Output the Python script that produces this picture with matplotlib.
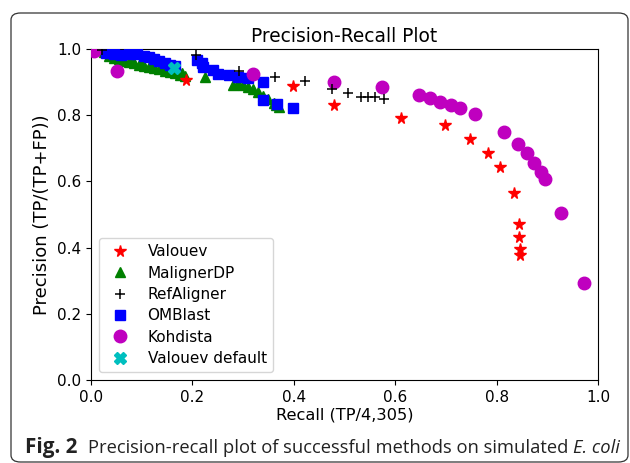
import matplotlib
matplotlib.use("Agg")
import matplotlib.pyplot as plt
from matplotlib.patches import FancyBboxPatch

# ---- data ----
valouev_r = [0.163, 0.187, 0.399, 0.479, 0.611, 0.698, 0.748, 0.783, 0.807, 0.835, 0.844, 0.845, 0.846, 0.847]
valouev_p = [0.950, 0.907, 0.887, 0.831, 0.792, 0.770, 0.728, 0.686, 0.643, 0.564, 0.470, 0.431, 0.395, 0.378]

maligner_r = [0.025, 0.035, 0.045, 0.055, 0.065, 0.075, 0.085, 0.095, 0.105, 0.115,
              0.125, 0.135, 0.145, 0.155, 0.165, 0.175, 0.185,
              0.06, 0.08, 0.10, 0.12, 0.14, 0.16, 0.18,
              0.225, 0.28, 0.29, 0.30, 0.31, 0.32, 0.33, 0.34, 0.35, 0.36, 0.365, 0.37]
maligner_p = [0.990, 0.980, 0.974, 0.969, 0.965, 0.961, 0.957, 0.953, 0.950, 0.946,
              0.943, 0.939, 0.935, 0.931, 0.926, 0.922, 0.917,
              0.976, 0.966, 0.958, 0.951, 0.944, 0.936, 0.927,
              0.914, 0.891, 0.895, 0.890, 0.885, 0.878, 0.870, 0.858, 0.848, 0.838, 0.830, 0.825]

refaligner_r = [0.022, 0.207, 0.292, 0.362, 0.423, 0.475, 0.506, 0.533, 0.547, 0.561, 0.577]
refaligner_p = [0.998, 0.982, 0.934, 0.914, 0.904, 0.878, 0.866, 0.854, 0.854, 0.854, 0.848]

omblast_r = [0.030, 0.045, 0.060, 0.075, 0.090, 0.105, 0.115, 0.125, 0.135, 0.145, 0.155, 0.165,
             0.209, 0.218, 0.221, 0.240, 0.250, 0.272, 0.290, 0.310, 0.339, 0.339, 0.366, 0.398]
omblast_p = [0.988, 0.985, 0.982, 0.985, 0.984, 0.980, 0.975, 0.970, 0.965, 0.958, 0.953, 0.948,
             0.967, 0.957, 0.946, 0.937, 0.924, 0.921, 0.916, 0.912, 0.901, 0.846, 0.833, 0.823]

kohdista_r = [0.006, 0.052, 0.320, 0.479, 0.573, 0.646, 0.669, 0.688, 0.710, 0.728,
              0.758, 0.815, 0.842, 0.859, 0.873, 0.888, 0.896, 0.927, 0.972]
kohdista_p = [0.995, 0.934, 0.923, 0.901, 0.884, 0.862, 0.852, 0.841, 0.831, 0.821,
              0.803, 0.748, 0.714, 0.685, 0.657, 0.629, 0.606, 0.506, 0.292]

vdefault_r = [0.164]
vdefault_p = [0.943]

ticks = [0.0, 0.2, 0.4, 0.6, 0.8, 1.0]
tick_labels = ["0.0", "0.2", "0.4", "0.6", "0.8", "1.0"]

W, H = 630, 463
fig = plt.figure(figsize=(W / 100, H / 100), dpi=100)
fig.patch.set_facecolor("white")

# outer rounded frame
frame = FancyBboxPatch((11 / W, 1 - 462 / H), (628 - 11) / W, (462 - 13) / H,
                       boxstyle="round,pad=0,rounding_size=0.015",
                       transform=fig.transFigure, fill=False,
                       edgecolor="#333333", linewidth=0.9)
fig.patches.append(frame)

ax = fig.add_axes([91 / W, (H - 380) / H, (598 - 91) / W, (380 - 49) / H])

ax.plot(valouev_r, valouev_p, linestyle="none", marker="*", color="red", ms=8.5, label="Valouev", zorder=3)
ax.plot(maligner_r, maligner_p, linestyle="none", marker="^", color="green", ms=7, label="MalignerDP", zorder=2)
ax.plot(refaligner_r, refaligner_p, linestyle="none", marker="+", color="black", ms=7.5, mew=1.1, label="RefAligner", zorder=4)
ax.plot(omblast_r, omblast_p, linestyle="none", marker="s", color="blue", ms=7, label="OMBlast", zorder=3)
ax.plot(kohdista_r, kohdista_p, linestyle="none", marker="o", color="#bf00bf", ms=9, label="Kohdista", zorder=3)
ax.plot(vdefault_r, vdefault_p, linestyle="none", marker="X", color="#00bfbf", ms=8, label="Valouev default", zorder=5)

ax.set_xlim(0, 1)
ax.set_ylim(0, 1)
ax.set_xticks(ticks)
ax.set_xticklabels(tick_labels)
ax.set_yticks(ticks)
ax.set_yticklabels(tick_labels)
ax.tick_params(labelsize=11)
ax.set_title("Precision-Recall Plot", fontsize=13.4, pad=5)
ax.set_xlabel("Recall (TP/4,305)", fontsize=11.7, labelpad=2)
ax.set_ylabel("Precision (TP/(TP+FP))", fontsize=13, labelpad=4)

leg = ax.legend(loc="lower left", fontsize=11, numpoints=1, framealpha=0.8,
                edgecolor="#cccccc", borderaxespad=0.5, handletextpad=0.8,
                labelspacing=0.42)

# caption, scaled to the reference's width
fig.canvas.draw()
r = fig.canvas.get_renderer()
cy = 1 - 448 / H
t1 = fig.text(25 / W, cy, "Fig. 2", fontsize=13, fontweight="bold", family="Open Sans",
              va="center", ha="left", color="#222222")
bb = t1.get_window_extent(r)
t1.set_fontsize(13 * 52 / bb.width)
body = "Precision-recall plot of successful methods on simulated "
t2 = fig.text(88 / W, cy, body, fontsize=12, family="Open Sans", va="center", ha="left", color="#222222")
t3 = fig.text(0, cy, "E. coli", fontsize=12, family="Open Sans", style="italic",
              va="center", ha="left", color="#222222")
w_total = t2.get_window_extent(r).width + t3.get_window_extent(r).width
fs = 12 * 528 / w_total
t2.set_fontsize(fs)
t3.set_fontsize(fs)
bb2 = t2.get_window_extent(r)
t3.set_x(bb2.x1 / W)

fig.savefig("out.png", dpi=100)
